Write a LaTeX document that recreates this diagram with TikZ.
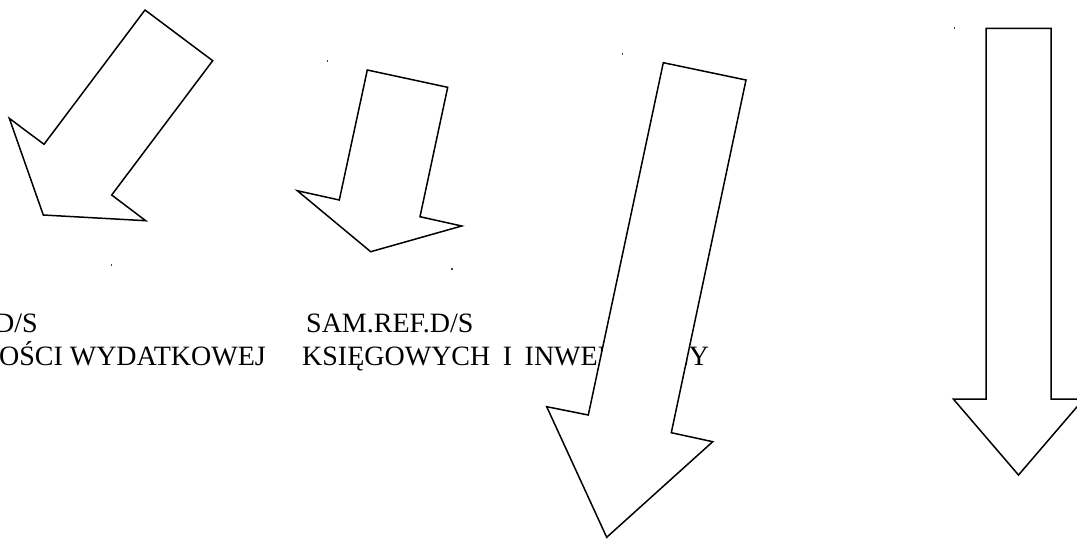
\documentclass[tikz,border=0pt]{standalone}
\usepackage{fontspec}
\setmainfont{Liberation Serif}
\begin{document}
\begin{tikzpicture}[x=1pt, y=-1pt,
    plaintext/.style={font=\fontsize{28}{33}\selectfont, inner sep=0pt},
    blockarrow/.style={draw=black, fill=white, line width=1.5pt, line join=miter},
    speck/.style={fill=black!75}
]
\useasboundingbox (0,0) rectangle (1077,539);

%% Labels (drawn first, the arrows cover them)
\node[plaintext, anchor=base east] (lefttop) at (38,332) {D/S};
\node[plaintext, anchor=base east] (leftbot) at (266,365) {OŚCI WYDATKOWEJ};
\node[plaintext, anchor=base west] (midtop) at (306,332) {SAM.REF.D/S};
\node[plaintext, anchor=base west] (midbot) at (302,365)
    {\spaceskip=12.5pt KSIĘGOWYCH I INWENTARZY};

%% Arrow 1: down-left
\draw[blockarrow] (145,10) -- (212.7,60.7) -- (111.7,195) -- (145.7,220.7)
    -- (43.3,215) -- (9.3,118.3) -- (44,144.3) -- cycle;

%% Arrow 2: short, slightly tilted
\draw[blockarrow] (367.3,70) -- (447.7,87.3) -- (420,216.7) -- (461.7,226)
    -- (370.7,251.7) -- (297.3,190.7) -- (339.3,200) -- cycle;

%% Arrow 3: long, slightly tilted
\draw[blockarrow] (663.3,62.7) -- (746,80) -- (671.3,432.7) -- (712.7,441.7)
    -- (606.7,537.3) -- (546.7,406.7) -- (588.3,415) -- cycle;

%% Arrow 4: straight down
\draw[blockarrow] (986,28.3) -- (1051,28.3) -- (1051,399) -- (1083.7,399)
    -- (1018.5,475) -- (953.3,399) -- (986,399) -- cycle;

%% Small specks
\fill[speck] (326.8,60) rectangle (328,62.2);
\fill[speck] (111,264) rectangle (112.2,266.2);
\fill[speck] (451,268) rectangle (452.5,270.2);
\fill[speck] (622,53) rectangle (623.2,55.2);
\fill[speck] (953.5,27.3) rectangle (954.5,29);

\end{tikzpicture}
\end{document}
